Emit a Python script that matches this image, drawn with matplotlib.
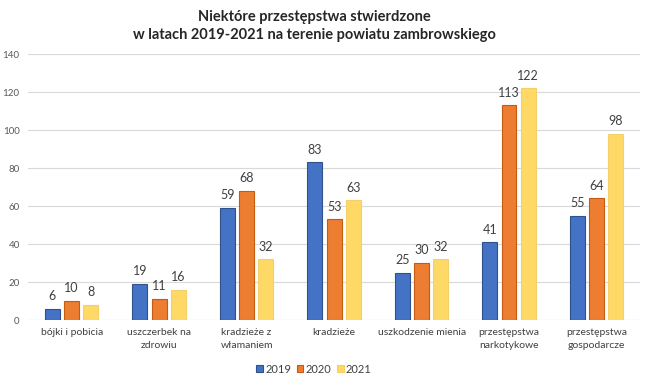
import matplotlib
matplotlib.use("Agg")
import matplotlib.pyplot as plt
import numpy as np

categories = ["bójki i pobicia", "uszczerbek na\nzdrowiu", "kradzieże z\nwłamaniem", "kradzieże",
              "uszkodzenie mienia", "przestępstwa\nnarkotykowe", "przestępstwa\ngospodarcze"]
years = ["2019", "2020", "2021"]
v2019 = [6, 19, 59, 83, 25, 41, 55]
v2020 = [10, 11, 68, 53, 30, 113, 64]
v2021 = [8, 16, 32, 63, 32, 122, 98]
yticks = [0, 20, 40, 60, 80, 100, 120, 140]

plt.rcParams['font.family'] = ['Lato', 'DejaVu Sans']
fig = plt.figure(figsize=(6.5, 3.81), dpi=100)
ax = fig.add_axes([0.043, 0.16, 0.942, 0.698])

colors = ["#4472C4", "#ED7D31", "#FFD966"]
edges = ["#2F528F", "#C55A11", "#F4D06A"]
x = np.arange(len(categories))
w = 0.17
step = 0.22
for i, (vals, c, e, yr) in enumerate(zip([v2019, v2020, v2021], colors, edges, years)):
    bars = ax.bar(x + (i - 1) * step, vals, w, color=c, edgecolor=e, linewidth=0.8, label=yr, zorder=3)
    for b, v in zip(bars, vals):
        ax.text(b.get_x() + b.get_width() / 2, v + 3.5, str(v), ha='center', va='bottom',
                fontsize=9, color='#404040')

ax.set_ylim(0, 140)
ax.set_xlim(-0.5, len(categories) - 0.5)
ax.set_yticks(yticks)
ax.set_yticklabels([str(t) for t in yticks], fontsize=7, color='#595959')
ax.set_xticks(x)
ax.set_xticklabels(categories, fontsize=7.5, color='#404040', linespacing=1.55)
ax.tick_params(length=0, pad=6)
ax.grid(axis='y', color='#D9D9D9', linewidth=0.8, zorder=0)
for s in ax.spines.values():
    s.set_visible(False)
ax.axhline(0, color='#D9D9D9', linewidth=0.8, zorder=1)

fig.text(0.483, 0.975, "Niektóre przestępstwa stwierdzone\nw latach 2019-2021 na terenie powiatu zambrowskiego",
         ha='center', va='top', fontsize=10.5, fontweight='bold', color='#262626', linespacing=1.45)
fig.legend(loc='lower center', bbox_to_anchor=(0.483, -0.01), ncol=3, frameon=False, fontsize=8,
           handlelength=0.6, handleheight=0.6, handletextpad=0.2, columnspacing=0.5,
           labelcolor='#404040')
fig.savefig("out.png", dpi=100)
